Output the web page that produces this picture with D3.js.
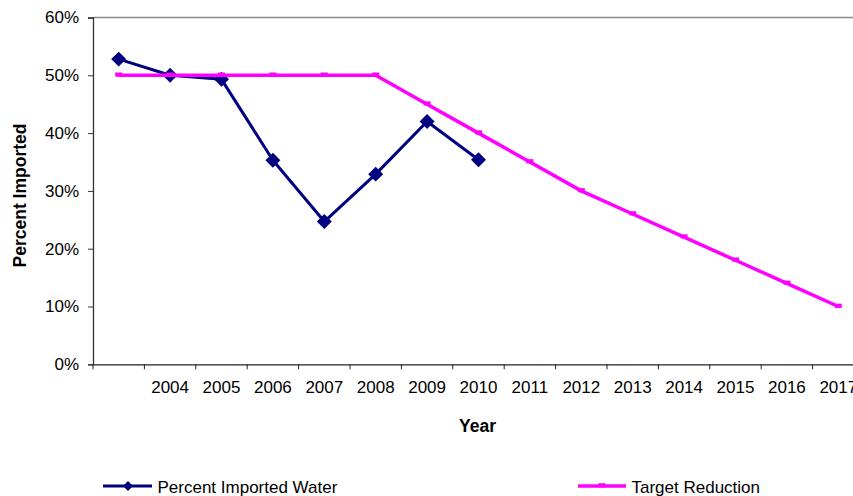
<!DOCTYPE html>
<html>
<head>
<meta charset="utf-8">
<script src="https://cdn.jsdelivr.net/npm/d3@7"></script>
<style>
  html, body { margin: 0; padding: 0; background: #fff; }
  svg { display: block; font-family: Arial, "Liberation Sans", sans-serif; }
</style>
</head>
<body>
<svg id="chart" width="853" height="496"></svg>
<script>
// ---- data ----
const categories = ["2003", "2004", "2005", "2006", "2007", "2008", "2009", "2010",
                    "2011", "2012", "2013", "2014", "2015", "2016", "2017"];
const tickLabels = ["", "2004", "2005", "2006", "2007", "2008", "2009", "2010",
                    "2011", "2012", "2013", "2014", "2015", "2016", "2017"];
const importedWater = [0.528, 0.500, 0.493, 0.353, 0.247, 0.329, 0.420, 0.354,
                       null, null, null, null, null, null, null];
const targetReduction = [0.50, 0.50, 0.50, 0.50, 0.50, 0.50, 0.45, 0.40,
                         0.35, 0.30, 0.26, 0.22, 0.18, 0.14, 0.10];
const yTicks = [0, 0.1, 0.2, 0.3, 0.4, 0.5, 0.6];
const seriesNames = ["Percent Imported Water", "Target Reduction"];

(function () {
// ---- layout ----
const svg = d3.select("#chart");
const pLeft = 93, pTop = 17.5, pBottom = 364.3, pRight = 864;
const x = d3.scaleBand().domain(categories).range([pLeft, pRight]).padding(0);
const y = d3.scaleLinear().domain([0, 0.6]).range([pBottom, pTop]);
const cx = c => x(c) + x.bandwidth() / 2;
const fontSize = 17;

// top border
svg.append("line").attr("x1", pLeft).attr("x2", pRight).attr("y1", pTop).attr("y2", pTop)
  .attr("stroke", "#8c8c8c").attr("stroke-width", 1.3);

// y axis
const yAxis = svg.append("g").attr("transform", `translate(${pLeft},0)`)
  .call(d3.axisLeft(y).tickValues(yTicks).tickFormat(d3.format(".0%")).tickSize(5).tickPadding(9));
yAxis.select(".domain").attr("stroke", "#333").attr("stroke-width", 1.3);
yAxis.selectAll(".tick line").attr("stroke", "#333");
yAxis.selectAll("text").attr("font-size", fontSize).attr("fill", "#000")
  .attr("font-family", "Arial, 'Liberation Sans', sans-serif");

// x axis
const xAxis = svg.append("g").attr("transform", `translate(0,${pBottom})`)
  .call(d3.axisBottom(x).tickSize(0).tickPadding(17)
    .tickFormat((d, i) => tickLabels[i]));
xAxis.select(".domain").attr("stroke", "#222").attr("stroke-width", 1.3);
xAxis.selectAll("text").attr("font-size", fontSize).attr("fill", "#000")
  .attr("font-family", "Arial, 'Liberation Sans', sans-serif");
// category boundary ticks
xAxis.selectAll(".cat-tick").data(categories.concat(["__end"])).enter()
  .append("line").attr("class", "cat-tick")
  .attr("x1", (d, i) => i < categories.length ? x(d) : pRight)
  .attr("x2", (d, i) => i < categories.length ? x(d) : pRight)
  .attr("y1", 0).attr("y2", 5).attr("stroke", "#222").attr("stroke-width", 1);

// axis titles
svg.append("text").attr("transform", "translate(26,195.5) rotate(-90)")
  .attr("text-anchor", "middle").attr("font-size", 17.5).attr("font-weight", "bold")
  .text("Percent Imported");
svg.append("text").attr("x", 477.5).attr("y", 431.5)
  .attr("text-anchor", "middle").attr("font-size", 17.5).attr("font-weight", "bold")
  .text("Year");

// blue series
const blueData = categories.map((c, i) => ({c, v: importedWater[i]})).filter(d => d.v != null);
const line = d3.line().x(d => cx(d.c)).y(d => y(d.v));
svg.append("path").datum(blueData).attr("d", line)
  .attr("fill", "none").attr("stroke", "#000080").attr("stroke-width", 3)
  .attr("stroke-linejoin", "round");
const diamond = d3.symbol().type(d3.symbolSquare).size(112);
svg.selectAll(".dia").data(blueData).enter().append("path")
  .attr("d", diamond)
  .attr("transform", d => `translate(${cx(d.c)},${y(d.v)}) rotate(45)`)
  .attr("fill", "#000080");

// magenta series
const pinkData = categories.map((c, i) => ({c, v: targetReduction[i]}));
svg.append("path").datum(pinkData).attr("d", line)
  .attr("fill", "none").attr("stroke", "#ff00ff").attr("stroke-width", 3.5)
  .attr("stroke-linejoin", "round");
svg.selectAll(".dash").data(pinkData).enter().append("rect")
  .attr("x", d => cx(d.c) - 3.5).attr("y", d => y(d.v) - 2.8)
  .attr("width", 7).attr("height", 4.2).attr("fill", "#ff00ff");

// legend
const legY = 486, textY = 493;
svg.append("line").attr("x1", 103).attr("x2", 152).attr("y1", legY).attr("y2", legY)
  .attr("stroke", "#000080").attr("stroke-width", 3);
svg.append("path").attr("d", d3.symbol().type(d3.symbolSquare).size(50)())
  .attr("transform", `translate(128,${legY}) rotate(45)`).attr("fill", "#000080");
svg.append("text").attr("x", 157.5).attr("y", textY).attr("font-size", fontSize)
  .text(seriesNames[0]);

svg.append("line").attr("x1", 578).attr("x2", 626).attr("y1", legY).attr("y2", legY)
  .attr("stroke", "#ff00ff").attr("stroke-width", 3.5);
svg.append("rect").attr("x", 598.5).attr("y", legY - 2.8).attr("width", 7).attr("height", 4.2)
  .attr("fill", "#ff00ff");
svg.append("text").attr("x", 631.5).attr("y", textY).attr("font-size", fontSize)
  .text(seriesNames[1]);
})();
</script>
</body>
</html>
